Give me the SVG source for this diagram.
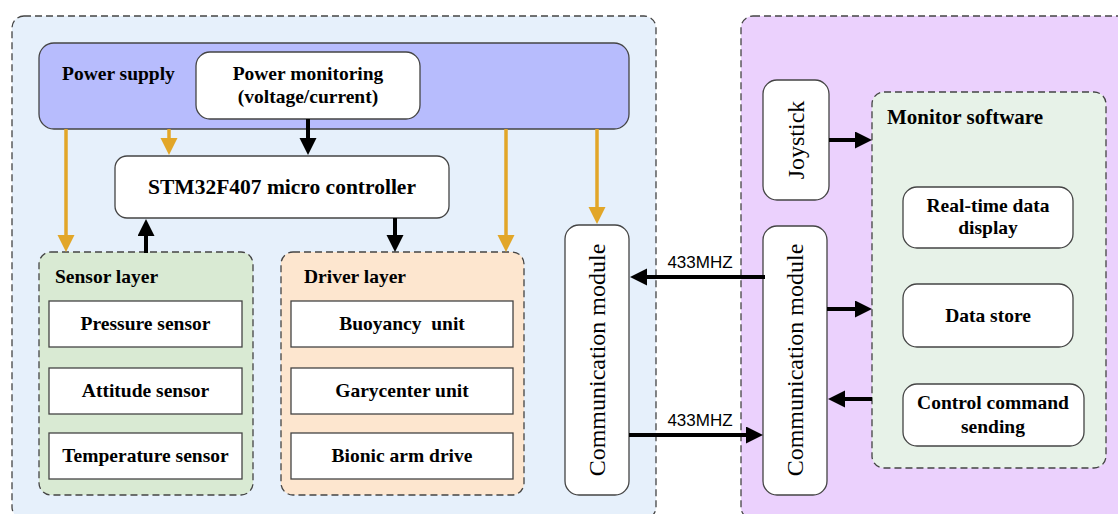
<svg xmlns="http://www.w3.org/2000/svg" width="1118" height="514" viewBox="0 0 1118 514">
  <style>
    .t { font-family: "Liberation Serif", "Times New Roman", serif; font-weight: bold; font-size: 19.5px; fill: #000; }
    .big { font-size: 21.5px; }
    .v { font-family: "Liberation Serif", "Times New Roman", serif; font-size: 24px; fill: #000; }
    .f { font-family: "Liberation Sans", Arial, sans-serif; font-size: 17px; fill: #000; }
    .box { fill: #fff; stroke: #444; stroke-width: 1.3; }
    .dash { stroke: #444; stroke-width: 1.3; stroke-dasharray: 7 4; }
    .blk { fill: none; stroke: #000; stroke-width: 4; }
    .org { fill: none; stroke: #e2a628; stroke-width: 3.5; }
  </style>
  <defs>
    <marker id="hb" markerUnits="userSpaceOnUse" markerWidth="18" markerHeight="18" refX="13" refY="8.5" orient="auto">
      <path d="M0,0 L17,8.5 L0,17 z" fill="#000"/>
    </marker>
    <marker id="ho" markerUnits="userSpaceOnUse" markerWidth="18" markerHeight="18" refX="13" refY="8.5" orient="auto">
      <path d="M0,0 L17,8.5 L0,17 z" fill="#e2a628"/>
    </marker>
  </defs>

  <!-- underwater vehicle side -->
  <g id="vehicle">
    <rect x="12" y="16" width="644" height="503" rx="12" fill="#e6f0fb" class="dash"/>
  </g>
  <!-- ground station side -->
  <g id="station">
    <rect x="741" y="16" width="400" height="503" rx="12" fill="#ebd1fd" class="dash"/>
  </g>

  <g id="power-supply">
    <rect x="39" y="43" width="590" height="86" rx="15" fill="#b7bcfd" stroke="#444" stroke-width="1.3"/>
    <text class="t" x="62" y="80">Power supply</text>
  </g>
  <g id="power-monitoring">
    <rect x="196" y="52" width="224" height="67" rx="14" class="box"/>
    <text class="t" x="308" y="80" text-anchor="middle">Power monitoring</text>
    <text class="t" x="308" y="103" text-anchor="middle">(voltage/current)</text>
  </g>
  <g id="controller">
    <rect x="115" y="156" width="334" height="62" rx="12" class="box"/>
    <text class="t big" x="282" y="194" text-anchor="middle">STM32F407 micro controller</text>
  </g>

  <g id="sensor-layer">
    <rect x="39" y="252" width="214" height="243" rx="12" fill="#d9ead3" class="dash"/>
    <text class="t" x="55" y="283">Sensor layer</text>
    <rect x="49" y="301" width="193" height="46" class="box"/>
    <text class="t" x="145.5" y="330" text-anchor="middle">Pressure sensor</text>
    <rect x="49" y="368" width="193" height="46" class="box"/>
    <text class="t" x="145.5" y="397" text-anchor="middle">Attitude sensor</text>
    <rect x="49" y="433" width="193" height="46" class="box"/>
    <text class="t" x="145.5" y="462" text-anchor="middle">Temperature sensor</text>
  </g>

  <g id="driver-layer">
    <rect x="281" y="252" width="243" height="243" rx="12" fill="#fde6cf" class="dash"/>
    <text class="t" x="304" y="283">Driver layer</text>
    <rect x="291" y="301" width="222" height="46" class="box"/>
    <text class="t" x="402" y="330" text-anchor="middle" xml:space="preserve">Buoyancy  unit</text>
    <rect x="291" y="368" width="222" height="46" class="box"/>
    <text class="t" x="402" y="397" text-anchor="middle">Garycenter unit</text>
    <rect x="291" y="433" width="222" height="46" class="box"/>
    <text class="t" x="402" y="462" text-anchor="middle">Bionic arm drive</text>
  </g>

  <g id="comm-vehicle">
    <rect x="565" y="225" width="64" height="270" rx="14" class="box"/>
    <text class="v" transform="translate(597,360) rotate(-90)" x="0" y="8" text-anchor="middle">Communication module</text>
  </g>

  <g id="joystick">
    <rect x="763" y="80" width="66" height="120" rx="14" class="box"/>
    <text class="v" transform="translate(796,140) rotate(-90)" x="0" y="8" text-anchor="middle">Joystick</text>
  </g>
  <g id="comm-station">
    <rect x="763" y="226" width="64" height="269" rx="14" class="box"/>
    <text class="v" transform="translate(795,360) rotate(-90)" x="0" y="8" text-anchor="middle">Communication module</text>
  </g>

  <g id="monitor-software">
    <rect x="872" y="92" width="234" height="376" rx="12" fill="#e7f2e8" class="dash"/>
    <text class="t" x="887" y="124" style="font-size:21px">Monitor software</text>
    <rect x="903" y="187" width="170" height="61" rx="14" class="box"/>
    <text class="t" x="988" y="212" text-anchor="middle">Real-time data</text>
    <text class="t" x="988" y="234" text-anchor="middle">display</text>
    <rect x="903" y="284" width="170" height="63" rx="14" class="box"/>
    <text class="t" x="988" y="322" text-anchor="middle">Data store</text>
    <rect x="903" y="384" width="181" height="62" rx="14" class="box"/>
    <text class="t" x="993" y="409" text-anchor="middle">Control command</text>
    <text class="t" x="993" y="433" text-anchor="middle">sending</text>
  </g>

  <g id="connectors">
    <!-- power rails -->
    <path class="org" d="M66,129 V248" marker-end="url(#ho)"/>
    <path class="org" d="M169,129 V151" marker-end="url(#ho)"/>
    <path class="org" d="M506,129 V248" marker-end="url(#ho)"/>
    <path class="org" d="M597,129 V220" marker-end="url(#ho)"/>
    <!-- data paths -->
    <path class="blk" d="M308,119 V151" marker-end="url(#hb)"/>
    <path class="blk" d="M146,253 V223" marker-end="url(#hb)"/>
    <path class="blk" d="M395,218 V248" marker-end="url(#hb)"/>
    <path class="blk" d="M765,277 H634" marker-end="url(#hb)"/>
    <path class="blk" d="M629,435 H759" marker-end="url(#hb)"/>
    <path class="blk" d="M829,140 H868" marker-end="url(#hb)"/>
    <path class="blk" d="M827,309 H868" marker-end="url(#hb)"/>
    <path class="blk" d="M872,399 H832" marker-end="url(#hb)"/>
    <text class="f" x="700" y="268" text-anchor="middle">433MHZ</text>
    <text class="f" x="700" y="426" text-anchor="middle">433MHZ</text>
  </g>
</svg>
